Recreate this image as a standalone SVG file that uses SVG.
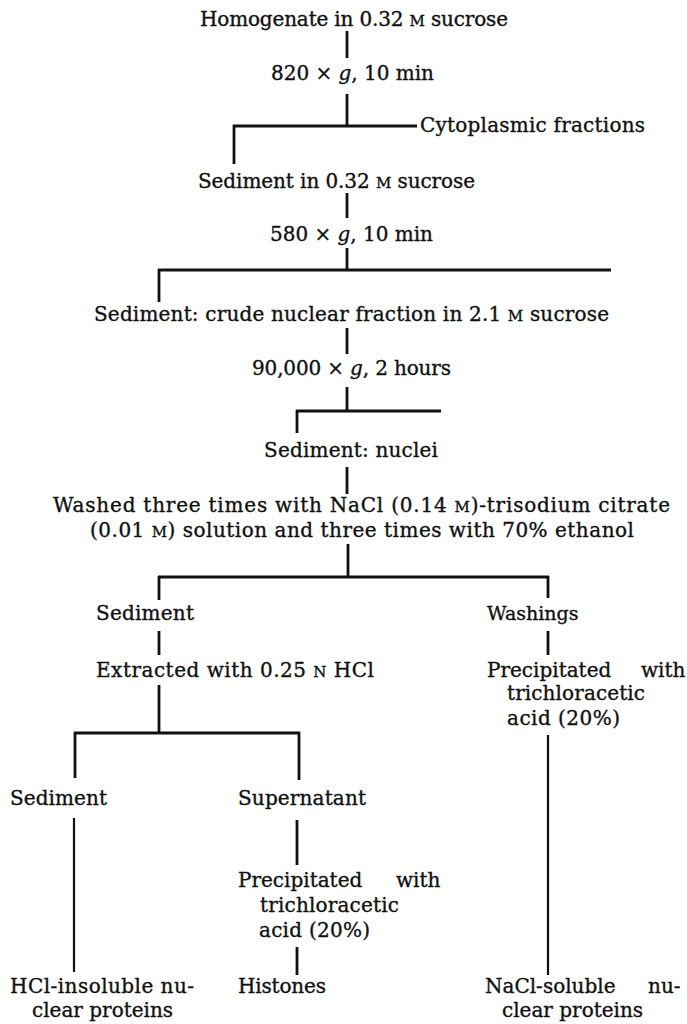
<svg xmlns="http://www.w3.org/2000/svg" width="687" height="1024" viewBox="0 0 687 1024">
<style>
text{font-family:"DejaVu Serif","Liberation Serif",serif;font-size:20px;fill:#111;stroke:#111;stroke-width:0.35;}
.sc{font-size:0.75em;}
.it{font-style:italic;}
#connectors line{stroke:#111;stroke-width:2.8;stroke-linecap:butt;}
#connectors line.thin{stroke-width:2.2;}
</style>
<rect width="687" height="1024" fill="#fff"/>
<g id="connectors">
<line x1="347" y1="31" x2="347" y2="58"/>
<line x1="347" y1="94" x2="347" y2="127"/>
<line x1="233" y1="126" x2="417" y2="126"/>
<line x1="234" y1="125" x2="234" y2="164"/>
<line x1="347" y1="193" x2="347" y2="218"/>
<line x1="347" y1="248" x2="347" y2="271"/>
<line x1="158" y1="270" x2="611" y2="270"/>
<line x1="159" y1="269" x2="159" y2="302"/>
<line x1="347" y1="328" x2="347" y2="354"/>
<line x1="347" y1="387" x2="347" y2="412"/>
<line x1="296" y1="411" x2="441" y2="411"/>
<line x1="297" y1="410" x2="297" y2="433"/>
<line x1="347" y1="467" x2="347" y2="494"/>
<line x1="348" y1="544" x2="348" y2="578"/>
<line x1="158" y1="577" x2="549" y2="577"/>
<line x1="159" y1="576" x2="159" y2="600"/>
<line x1="548" y1="576" x2="548" y2="598"/>
<line x1="159" y1="631" x2="159" y2="655"/>
<line x1="548" y1="631" x2="548" y2="655"/>
<line x1="159" y1="685" x2="159" y2="734"/>
<line x1="74" y1="733" x2="300" y2="733"/>
<line x1="75" y1="732" x2="75" y2="778"/>
<line x1="299" y1="732" x2="299" y2="780"/>
<line class="thin" x1="74" y1="818" x2="74" y2="972"/>
<line x1="297" y1="820" x2="297" y2="865"/>
<line x1="297" y1="947" x2="297" y2="975"/>
<line class="thin" x1="548" y1="735" x2="548" y2="975"/>
</g>
<g id="n-homogenate"><text x="200" y="26" textLength="308" lengthAdjust="spacing">Homogenate in 0.32 <tspan class="sc">M</tspan> sucrose</text></g>
<g id="n-spin1"><text x="271" y="80" textLength="163" lengthAdjust="spacing">820 × <tspan class="it">g</tspan>, 10 min</text></g>
<g id="n-cyto"><text x="420" y="132" textLength="225" lengthAdjust="spacing">Cytoplasmic fractions</text></g>
<g id="n-sed1"><text x="198" y="188" textLength="277" lengthAdjust="spacing">Sediment in 0.32 <tspan class="sc">M</tspan> sucrose</text></g>
<g id="n-spin2"><text x="270" y="241" textLength="163" lengthAdjust="spacing">580 × <tspan class="it">g</tspan>, 10 min</text></g>
<g id="n-crude"><text x="94" y="321" textLength="515" lengthAdjust="spacing">Sediment: crude nuclear fraction in 2.1 <tspan class="sc">M</tspan> sucrose</text></g>
<g id="n-spin3"><text x="252" y="375" textLength="199" lengthAdjust="spacing">90,000 × <tspan class="it">g</tspan>, 2 hours</text></g>
<g id="n-nuclei"><text x="264" y="457" textLength="174" lengthAdjust="spacing">Sediment: nuclei</text></g>
<g id="n-washed">
<text x="53" y="512" textLength="617" lengthAdjust="spacing">Washed three times with NaCl (0.14 <tspan class="sc">M</tspan>)-trisodium citrate</text>
<text x="90" y="537" textLength="544" lengthAdjust="spacing">(0.01 <tspan class="sc">M</tspan>) solution and three times with 70% ethanol</text>
</g>
<g id="n-sed2"><text x="96" y="620" textLength="98" lengthAdjust="spacing">Sediment</text></g>
<g id="n-washings"><text x="487" y="620" style="font-size:19px">Washings</text></g>
<g id="n-extracted"><text x="96" y="677" textLength="278" lengthAdjust="spacing">Extracted with 0.25 <tspan class="sc">N</tspan> HCl</text></g>
<g id="n-precip1">
<text x="487" y="677">Precipitated <tspan x="641">with</tspan></text>
<text x="507" y="700" textLength="138" lengthAdjust="spacing">trichloracetic</text>
<text x="507" y="725" textLength="113" lengthAdjust="spacing">acid (20%)</text>
</g>
<g id="n-sed3"><text x="10" y="805" textLength="97" lengthAdjust="spacing">Sediment</text></g>
<g id="n-super"><text x="238" y="805" textLength="128" lengthAdjust="spacing">Supernatant</text></g>
<g id="n-precip2">
<text x="238" y="887">Precipitated <tspan x="396">with</tspan></text>
<text x="260" y="912" textLength="139" lengthAdjust="spacing">trichloracetic</text>
<text x="259" y="937" textLength="111" lengthAdjust="spacing">acid (20%)</text>
</g>
<g id="n-hclinsol">
<text x="10" y="993" textLength="184" lengthAdjust="spacing">HCl-insoluble nu-</text>
<text x="32" y="1017">clear proteins</text>
</g>
<g id="n-histones"><text x="238" y="993" textLength="88" lengthAdjust="spacing">Histones</text></g>
<g id="n-naclsol">
<text x="485" y="993">NaCl-soluble <tspan x="648">nu-</tspan></text>
<text x="502" y="1017">clear proteins</text>
</g>
</svg>
